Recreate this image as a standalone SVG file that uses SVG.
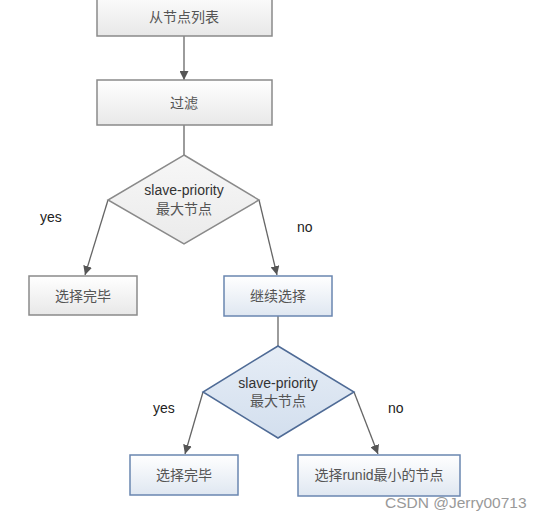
<svg xmlns="http://www.w3.org/2000/svg" width="542" height="520" viewBox="0 0 542 520">
<defs>
<linearGradient id="gGray" x1="0" y1="0" x2="0" y2="1"><stop offset="0" stop-color="#ffffff"/><stop offset="1" stop-color="#e8e8e8"/></linearGradient>
<linearGradient id="gBlue" x1="0" y1="0" x2="0" y2="1"><stop offset="0" stop-color="#ffffff"/><stop offset="1" stop-color="#dfe7f1"/></linearGradient>
<linearGradient id="gDiaGray" x1="0" y1="0" x2="0" y2="1"><stop offset="0" stop-color="#f7f7f7"/><stop offset="1" stop-color="#ebebeb"/></linearGradient>
<linearGradient id="gDiaBlue" x1="0" y1="0" x2="0" y2="1"><stop offset="0" stop-color="#e6edf6"/><stop offset="1" stop-color="#d3dfee"/></linearGradient>
<marker id="arr" viewBox="0 0 10 10" refX="10" refY="5" markerWidth="9" markerHeight="9" markerUnits="userSpaceOnUse" orient="auto"><path d="M0,0 L10,5 L0,10 z" fill="#555"/></marker>
</defs>
<style>
.box{fill:url(#gGray);stroke:#8a8a8a;stroke-width:1.5}
.bbox{fill:url(#gBlue);stroke:#6a86b0;stroke-width:1.5}
.t{font-family:"Liberation Sans","Noto Sans CJK SC",sans-serif;font-size:14px;fill:#555;text-anchor:middle}
.d{fill:#333}
.lbl{font-family:"Liberation Sans",sans-serif;font-size:14px;fill:#222}
.c{stroke:#666;stroke-width:1.3;fill:none;marker-end:url(#arr)}
</style>
<rect width="542" height="520" fill="#ffffff"/>
<g id="connectors">
<line class="c" x1="184" y1="36" x2="184" y2="80"/>
<line x1="184" y1="125" x2="184" y2="155" stroke="#666" stroke-width="1.3"/>
<line class="c" x1="108" y1="200" x2="85" y2="275"/>
<line class="c" x1="259" y1="200" x2="277" y2="275"/>
<line x1="278" y1="316" x2="278" y2="346" stroke="#666" stroke-width="1.3"/>
<line class="c" x1="203" y1="392" x2="185" y2="454"/>
<line class="c" x1="354" y1="392" x2="378" y2="454"/>
<text class="lbl" x="40" y="222">yes</text>
<text class="lbl" x="297" y="232">no</text>
<text class="lbl" x="153" y="413">yes</text>
<text class="lbl" x="388" y="413">no</text>
</g>
<g id="n1"><rect class="box" x="97" y="-10" width="175" height="46"/><text class="t" x="184" y="22">从节点列表</text></g>
<g id="n2"><rect class="box" x="97" y="80" width="175" height="45"/><text class="t" x="184" y="108">过滤</text></g>
<g id="n3"><polygon points="184,155 259,200 184,244 108,200" fill="url(#gDiaGray)" stroke="#8a8a8a" stroke-width="1.5"/><text class="t d" x="184" y="195">slave-priority</text><text class="t" x="184" y="214">最大节点</text></g>
<g id="n4"><rect class="box" x="29" y="276" width="108" height="39"/><text class="t" x="83" y="301">选择完毕</text></g>
<g id="n5"><rect class="bbox" x="224" y="276" width="108" height="40"/><text class="t" x="278" y="301">继续选择</text></g>
<g id="n6"><polygon points="278,346 354,392 278,438 203,392" fill="url(#gDiaBlue)" stroke="#4f6b96" stroke-width="1.5"/><text class="t d" x="278" y="388">slave-priority</text><text class="t" x="278" y="406">最大节点</text></g>
<g id="n7"><rect class="bbox" x="130" y="455" width="108" height="40"/><text class="t" x="184" y="480">选择完毕</text></g>
<g id="n8"><rect class="bbox" x="298" y="455" width="162" height="41"/><text class="t" x="379" y="480">选择runid最小的节点</text></g>
<text x="385" y="508" font-family="Liberation Sans,sans-serif" font-size="15.5" fill="#999">CSDN @Jerry00713</text>
</svg>
